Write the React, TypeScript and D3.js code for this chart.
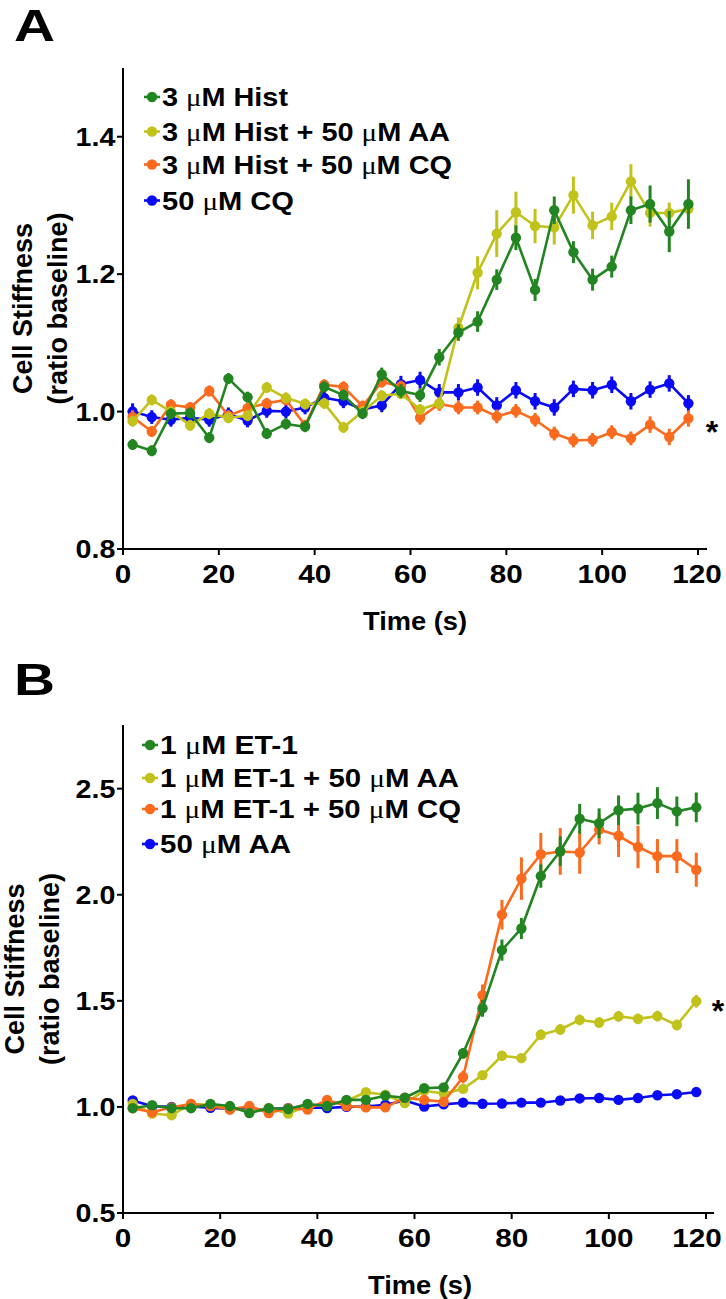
import React from 'react';
import * as d3 from 'd3';

// ---------- data ----------
const times = [2, 6, 10, 14, 18, 22, 26, 30, 34, 38, 42, 46, 50, 54, 58, 62, 66, 70, 74, 78, 82, 86, 90, 94, 98, 102, 106, 110, 114, 118];
const xTicks = [0, 20, 40, 60, 80, 100, 120];
const yTicksA = [0.8, 1.0, 1.2, 1.4];
const yTicksB = [0.5, 1.0, 1.5, 2.0, 2.5];

// Panel A
const histA = [0.952, 0.943, 0.997, 0.998, 0.962, 1.048, 1.021, 0.968, 0.982, 0.978, 1.036, 1.024, 0.997, 1.054, 1.030, 1.024, 1.079, 1.115, 1.131, 1.192, 1.253, 1.177, 1.293, 1.232, 1.192, 1.211, 1.293, 1.302, 1.262, 1.302];
const histAErr = [0.008, 0.008, 0.008, 0.008, 0.008, 0.008, 0.008, 0.008, 0.008, 0.008, 0.008, 0.008, 0.008, 0.01, 0.01, 0.01, 0.012, 0.012, 0.015, 0.015, 0.018, 0.016, 0.02, 0.016, 0.016, 0.016, 0.02, 0.027, 0.03, 0.036];
const histAA = [0.986, 1.017, 1.000, 0.980, 0.997, 0.991, 0.994, 1.035, 1.020, 1.011, 1.012, 0.977, 1.000, 1.023, 1.026, 1.003, 1.012, 1.122, 1.202, 1.259, 1.290, 1.270, 1.268, 1.315, 1.271, 1.284, 1.335, 1.289, 1.289, 1.295];
const histAAErr = [0.008, 0.008, 0.008, 0.008, 0.008, 0.008, 0.008, 0.008, 0.008, 0.008, 0.008, 0.008, 0.008, 0.008, 0.008, 0.008, 0.008, 0.015, 0.024, 0.034, 0.03, 0.025, 0.025, 0.027, 0.02, 0.02, 0.025, 0.02, 0.015, 0.01];
const histCQ = [0.992, 0.971, 1.010, 1.006, 1.030, 0.994, 1.005, 1.012, 1.017, 0.980, 1.039, 1.036, 1.008, 1.043, 1.037, 0.991, 1.011, 1.006, 1.006, 0.993, 1.001, 0.988, 0.968, 0.958, 0.959, 0.970, 0.961, 0.981, 0.963, 0.990];
const histCQErr = [0.01, 0.008, 0.008, 0.008, 0.008, 0.008, 0.008, 0.008, 0.008, 0.008, 0.008, 0.008, 0.008, 0.008, 0.008, 0.01, 0.01, 0.01, 0.01, 0.01, 0.01, 0.01, 0.01, 0.01, 0.01, 0.01, 0.01, 0.012, 0.012, 0.012];
const cqA = [1.000, 0.992, 0.988, 0.991, 0.988, 0.996, 0.987, 1.001, 1.000, 1.006, 1.020, 1.015, 1.003, 1.009, 1.040, 1.046, 1.028, 1.028, 1.035, 1.009, 1.031, 1.015, 1.006, 1.033, 1.031, 1.039, 1.015, 1.032, 1.041, 1.012];
const cqAErr = [0.012, 0.01, 0.01, 0.01, 0.01, 0.01, 0.01, 0.01, 0.01, 0.01, 0.01, 0.01, 0.01, 0.01, 0.012, 0.012, 0.012, 0.012, 0.012, 0.012, 0.012, 0.012, 0.012, 0.012, 0.012, 0.012, 0.012, 0.012, 0.012, 0.012];

// Panel B
const et1 = [0.994, 1.008, 0.994, 0.994, 1.014, 1.004, 0.971, 0.994, 0.990, 1.014, 1.004, 1.033, 1.033, 1.053, 1.043, 1.088, 1.092, 1.253, 1.465, 1.739, 1.841, 2.088, 2.205, 2.358, 2.337, 2.398, 2.406, 2.432, 2.393, 2.412];
const et1Err = [0.01, 0.01, 0.01, 0.01, 0.01, 0.01, 0.01, 0.01, 0.01, 0.01, 0.01, 0.01, 0.01, 0.01, 0.012, 0.015, 0.015, 0.025, 0.04, 0.05, 0.05, 0.055, 0.07, 0.07, 0.07, 0.07, 0.075, 0.075, 0.07, 0.07];
const et1AA = [1.014, 0.969, 0.961, 1.014, 1.010, 0.994, 0.978, 0.994, 0.969, 1.004, 1.014, 1.029, 1.069, 1.057, 1.018, 1.076, 1.063, 1.085, 1.150, 1.241, 1.230, 1.340, 1.365, 1.410, 1.398, 1.427, 1.415, 1.428, 1.386, 1.498];
const et1AAErr = [0.01, 0.01, 0.01, 0.01, 0.01, 0.01, 0.01, 0.01, 0.01, 0.01, 0.01, 0.01, 0.01, 0.01, 0.01, 0.01, 0.01, 0.012, 0.015, 0.02, 0.02, 0.025, 0.025, 0.025, 0.025, 0.025, 0.025, 0.025, 0.025, 0.03];
const et1CQ = [0.994, 0.975, 0.998, 1.014, 1.004, 0.988, 1.004, 0.971, 0.994, 0.988, 1.033, 1.004, 0.998, 0.998, 1.043, 1.033, 1.024, 1.141, 1.527, 1.906, 2.076, 2.191, 2.204, 2.199, 2.307, 2.278, 2.225, 2.182, 2.182, 2.118];
const et1CQErr = [0.01, 0.01, 0.01, 0.01, 0.01, 0.01, 0.01, 0.01, 0.01, 0.01, 0.01, 0.01, 0.01, 0.01, 0.01, 0.015, 0.015, 0.03, 0.05, 0.07, 0.1, 0.1, 0.11, 0.1, 0.07, 0.1, 0.1, 0.08, 0.08, 0.08];
const aaB = [1.030, 1.003, 1.000, 1.002, 0.996, 0.990, 0.987, 0.990, 0.994, 0.998, 0.995, 1.000, 1.002, 1.010, 1.030, 1.002, 1.012, 1.020, 1.015, 1.016, 1.020, 1.020, 1.030, 1.040, 1.042, 1.033, 1.042, 1.055, 1.060, 1.070];
const aaBErr = [0.006, 0.006, 0.006, 0.006, 0.006, 0.006, 0.006, 0.006, 0.006, 0.006, 0.006, 0.006, 0.006, 0.006, 0.006, 0.006, 0.006, 0.006, 0.006, 0.006, 0.006, 0.006, 0.006, 0.006, 0.006, 0.006, 0.006, 0.006, 0.006, 0.006];

const labelsA = [['3 ', 'μ', 'M Hist'], ['3 ', 'μ', 'M Hist + 50 ', 'μ', 'M AA'], ['3 ', 'μ', 'M Hist + 50 ', 'μ', 'M CQ'], ['50 ', 'μ', 'M CQ']];
const labelsB = [['1 ', 'μ', 'M ET-1'], ['1 ', 'μ', 'M ET-1 + 50 ', 'μ', 'M AA'], ['1 ', 'μ', 'M ET-1 + 50 ', 'μ', 'M CQ'], ['50 ', 'μ', 'M AA']];

const GREEN = '#228522';
const OLIVE = '#c2c21c';
const ORANGE = '#fb6a1d';
const BLUE = '#0a0af5';

const FONT = '"Liberation Sans", Arial, Helvetica, sans-serif';

type SeriesProps = { x: d3.ScaleLinear<number, number>; y: d3.ScaleLinear<number, number>; vals: number[]; errs: number[]; color: string };

function Series({ x, y, vals, errs, color }: SeriesProps) {
  const line = d3.line<number>().x((_, i) => x(times[i])).y((d) => y(d));
  return (
    <g>
      <path d={line(vals) || ''} fill="none" stroke={color} strokeWidth={2.6} strokeLinejoin="round" />
      {vals.map((v, i) => (
        <line key={'e' + i} x1={x(times[i])} x2={x(times[i])} y1={y(v - errs[i])} y2={y(v + errs[i])} stroke={color} strokeWidth={3} />
      ))}
      {vals.map((v, i) => (
        <circle key={'c' + i} cx={x(times[i])} cy={y(v)} r={5.2} fill={color} />
      ))}
    </g>
  );
}

type PanelProps = {
  letter: string;
  letterY: number;
  x: d3.ScaleLinear<number, number>;
  y: d3.ScaleLinear<number, number>;
  yTicks: number[];
  xEnd: number;
  series: { vals: number[]; errs: number[]; color: string }[];
  labels: string[][];
  legendColors: string[];
  legendY: number[];
  legendWidths: number[];
  legendX: number;
  ylabX: number;
  titleX: number;
  star: [number, number];
};

function Panel(p: PanelProps) {
  const [y0, y1] = p.y.range();
  const x0 = p.x.range()[0];
  const fmt = d3.format('.1f');
  const yLabCenter = (y0 + y1) / 2;
  return (
    <g fontFamily={FONT} fontWeight="bold" fill="#000">
      <text x={14} y={p.letterY} fontSize={45} textLength={41} lengthAdjust="spacingAndGlyphs">{p.letter}</text>
      {/* axes */}
      <line x1={x0} x2={x0} y1={y0 + 1} y2={y1} stroke="#000" strokeWidth={2} />
      <line x1={x0 - 1} x2={p.xEnd} y1={y0} y2={y0} stroke="#000" strokeWidth={2} />
      {p.yTicks.map((t) => (
        <g key={'y' + t} transform={`translate(${x0},${p.y(t)})`}>
          <line x1={-6} x2={0} stroke="#000" strokeWidth={2} />
          <text x={-7} dy={9} textAnchor="end" fontSize={26} transform="scale(1.1,1)">{fmt(t)}</text>
        </g>
      ))}
      {xTicks.map((t) => {
        const px = p.x(t);
        const shift = Math.min(0, 697 - px);
        return (
          <g key={'x' + t} transform={`translate(${px},${y0})`}>
            <line y1={0} y2={6} stroke="#000" strokeWidth={2} />
            <text x={shift} y={34} textAnchor="middle" fontSize={26} transform={`translate(${shift},0) scale(1.14,1) translate(${-shift},0)`}>{t}</text>
          </g>
        );
      })}
      <text x={p.titleX} y={y0 + 81} textAnchor="middle" fontSize={26} textLength={104} lengthAdjust="spacingAndGlyphs">Time (s)</text>
      <text transform={`translate(${p.ylabX},${yLabCenter}) rotate(-90)`} textAnchor="middle" fontSize={27}>Cell Stiffness</text>
      <text transform={`translate(${p.ylabX + 35},${yLabCenter}) rotate(-90)`} textAnchor="middle" fontSize={27}>(ratio baseline)</text>
      {/* series */}
      {p.series.map((s, i) => (
        <Series key={i} x={p.x} y={p.y} vals={s.vals} errs={s.errs} color={s.color} />
      ))}
      {/* legend */}
      {p.labels.map((lab, i) => (
        <g key={'l' + i}>
          <line x1={p.legendX - 18} x2={p.legendX - 2} y1={p.legendY[i]} y2={p.legendY[i]} stroke={p.legendColors[i]} strokeWidth={2.6} />
          <circle cx={p.legendX - 10} cy={p.legendY[i]} r={5.2} fill={p.legendColors[i]} />
          <text x={p.legendX} y={p.legendY[i] + 9} fontSize={25} textLength={p.legendWidths[i]} lengthAdjust="spacingAndGlyphs">
            {lab.map((part, j) =>
              part === 'μ' ? (
                <tspan key={j} fontFamily='"Liberation Serif", "DejaVu Serif", serif' fontWeight="normal">μ</tspan>
              ) : (
                <tspan key={j}>{part}</tspan>
              )
            )}
          </text>
        </g>
      ))}
      <text x={p.star[0]} y={p.star[1] + 17} textAnchor="middle" fontSize={32}>*</text>
    </g>
  );
}

export default function App() {
  const xA = d3.scaleLinear().domain([0, 120]).range([123, 698]);
  const yA = d3.scaleLinear().domain([0.8, 1.5]).range([549, 68]);
  const xB = d3.scaleLinear().domain([0, 120]).range([123, 706]);
  const yB = d3.scaleLinear().domain([0.5, 2.8]).range([1213, 725]);
  return (
    <svg width={726} height={1299} style={{ position: 'absolute', left: 0, top: 0, background: '#fff' }}>
      <rect width={726} height={1299} fill="#fff" />
      <Panel
        letter="A"
        letterY={41}
        x={xA}
        y={yA}
        yTicks={yTicksA}
        xEnd={707}
        series={[
          { vals: cqA, errs: cqAErr, color: BLUE },
          { vals: histCQ, errs: histCQErr, color: ORANGE },
          { vals: histAA, errs: histAAErr, color: OLIVE },
          { vals: histA, errs: histAErr, color: GREEN },
        ]}
        labels={labelsA}
        legendColors={[GREEN, OLIVE, ORANGE, BLUE]}
        legendY={[97, 131.5, 164.5, 200.5]}
        legendWidths={[126, 288, 290, 132]}
        legendX={162}
        ylabX={32}
        titleX={415}
        star={[712, 426]}
      />
      <Panel
        letter="B"
        letterY={695}
        x={xB}
        y={yB}
        yTicks={yTicksB}
        xEnd={714}
        series={[
          { vals: aaB, errs: aaBErr, color: BLUE },
          { vals: et1AA, errs: et1AAErr, color: OLIVE },
          { vals: et1CQ, errs: et1CQErr, color: ORANGE },
          { vals: et1, errs: et1Err, color: GREEN },
        ]}
        labels={labelsB}
        legendColors={[GREEN, OLIVE, ORANGE, BLUE]}
        legendY={[745, 778, 809, 844]}
        legendWidths={[138, 299, 301, 131]}
        legendX={160}
        ylabX={24}
        titleX={420}
        star={[718, 1005]}
      />
    </svg>
  );
}
